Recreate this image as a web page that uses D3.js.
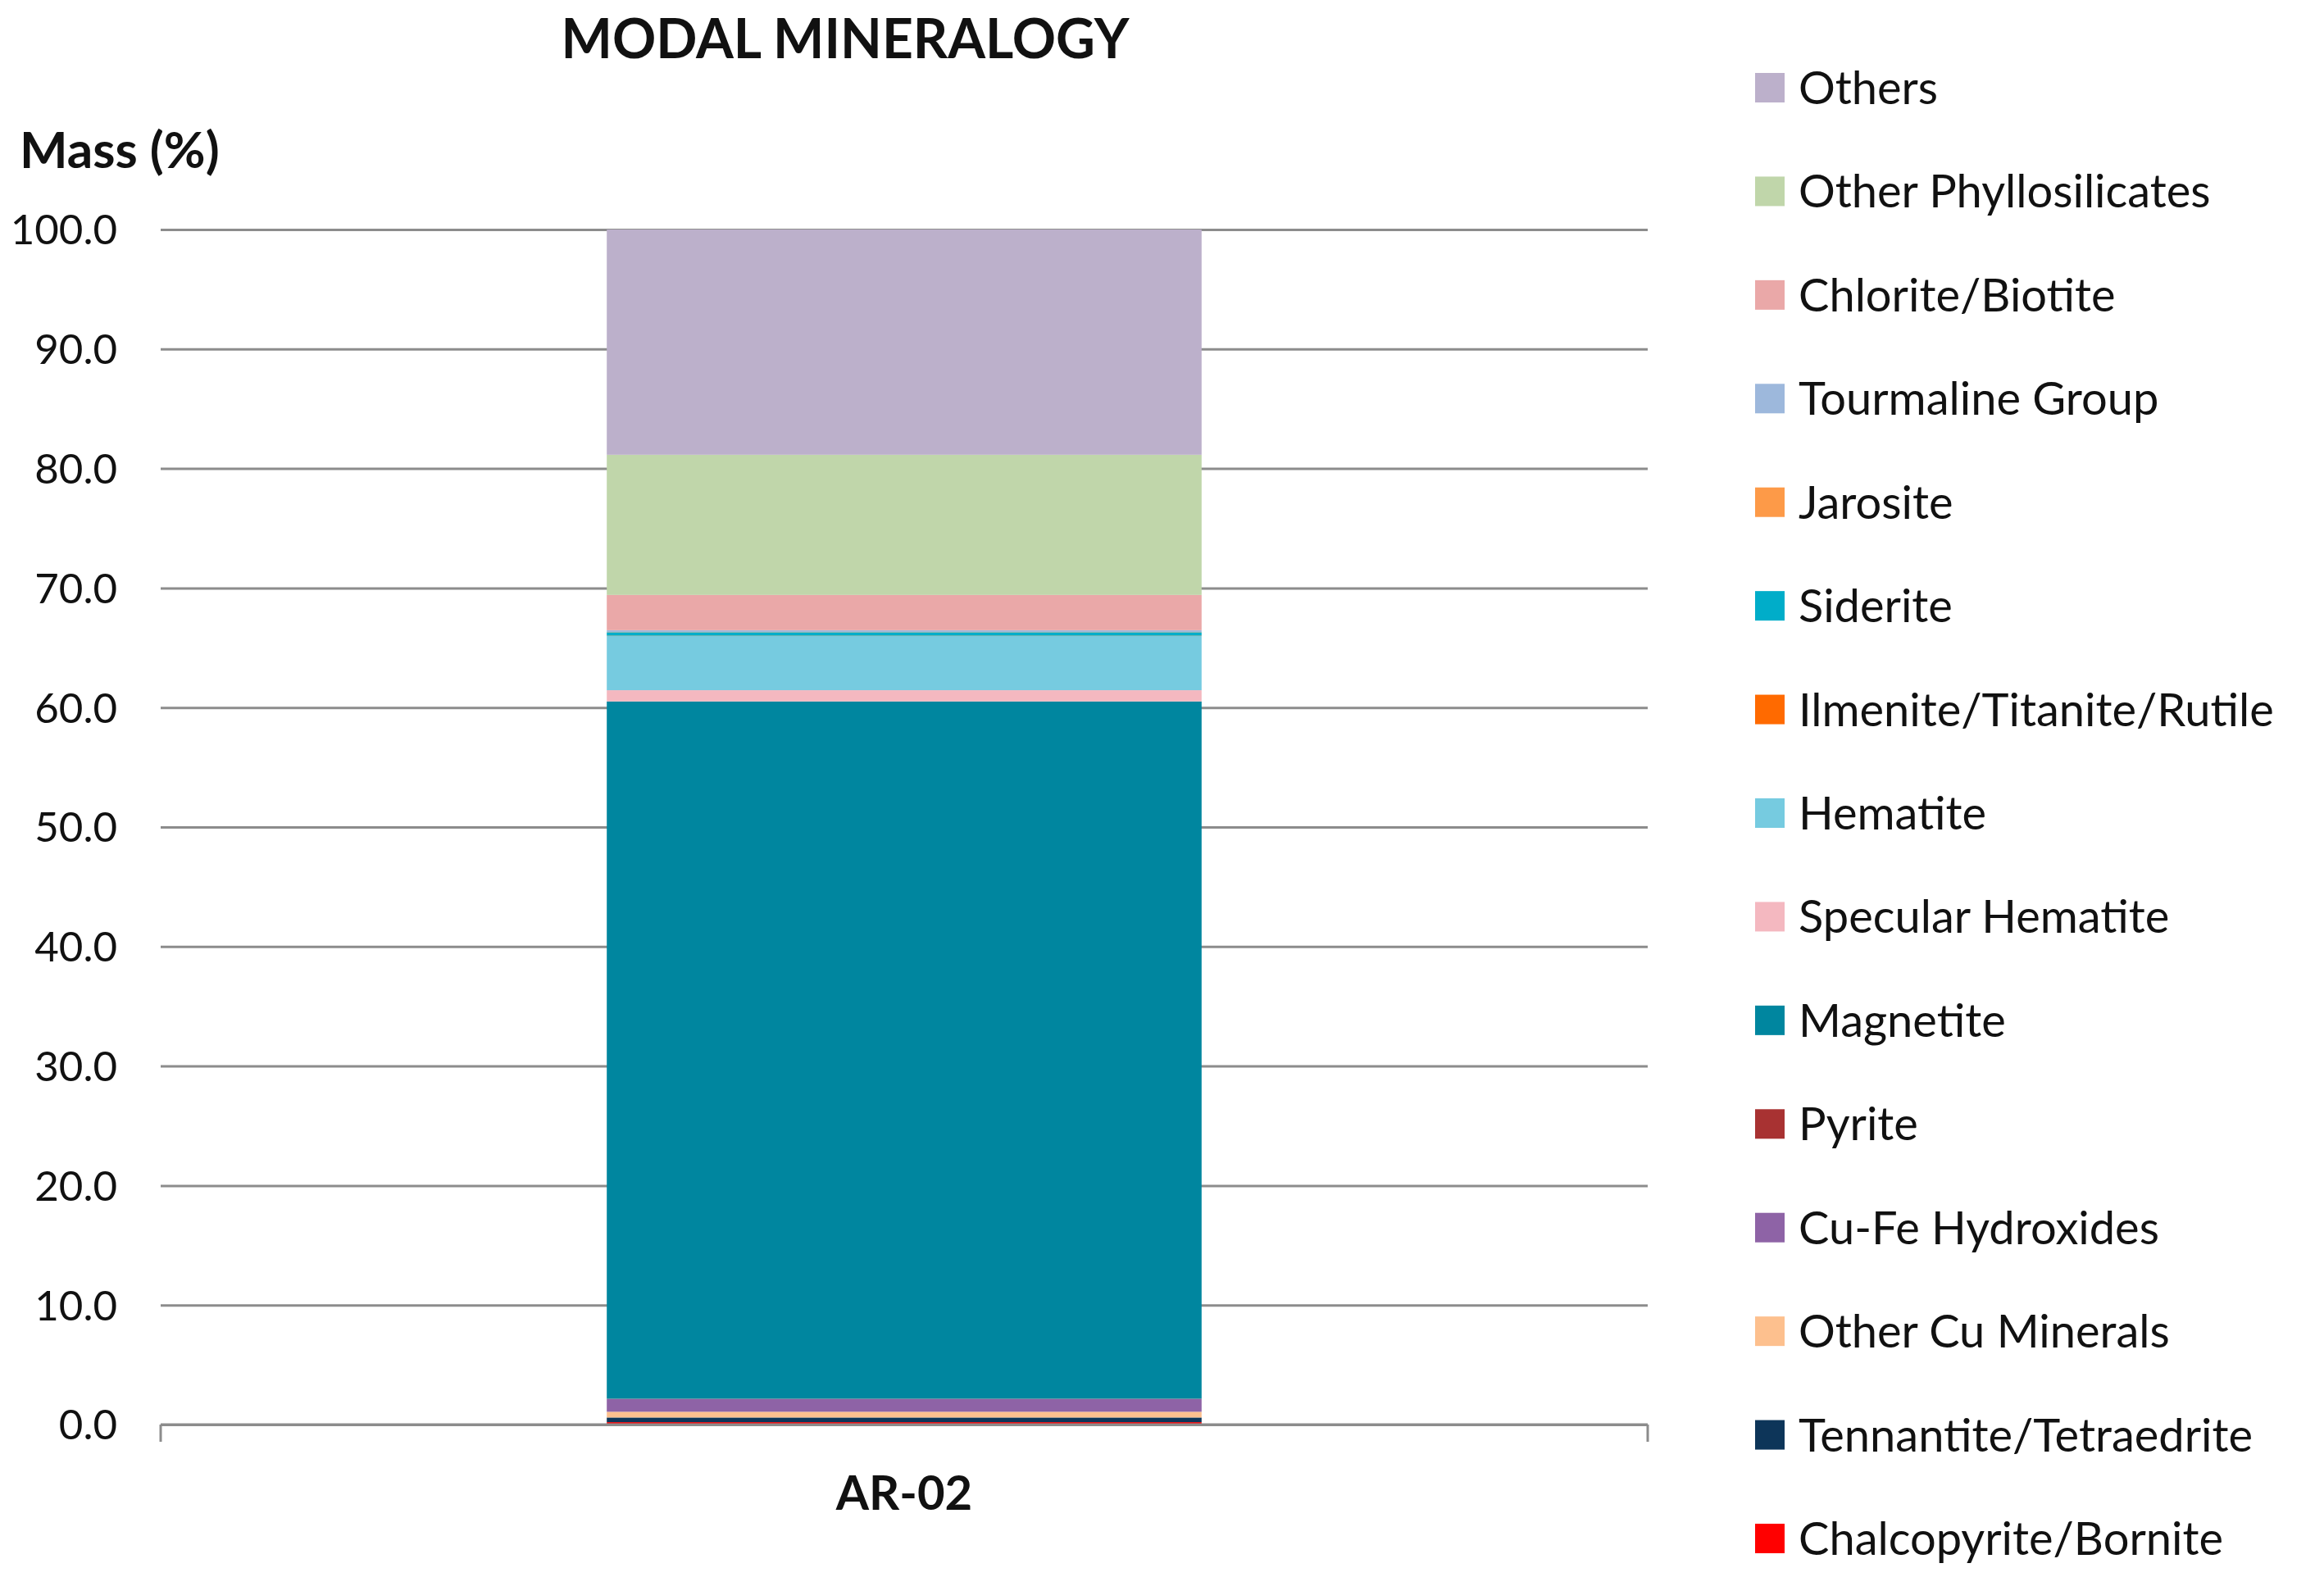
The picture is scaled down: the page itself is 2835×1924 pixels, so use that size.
<!DOCTYPE html>
<html>
<head>
<meta charset="utf-8">
<script src="https://cdn.jsdelivr.net/npm/d3@7"></script>
<style>
  html, body { margin: 0; padding: 0; background: #ffffff; }
  svg { display: block; }
  text { font-family: Lato, "Open Sans", sans-serif; fill: #111; }
</style>
</head>
<body>
<script>
// ---- data ----
const categories = ["AR-02"];
// series listed bottom -> top of the stack
const seriesNames = [
  "Chalcopyrite/Bornite",
  "Tennantite/Tetraedrite",
  "Other Cu Minerals",
  "Cu-Fe Hydroxides",
  "Pyrite",
  "Magnetite",
  "Specular Hematite",
  "Hematite",
  "Ilmenite/Titanite/Rutile",
  "Siderite",
  "Jarosite",
  "Tourmaline Group",
  "Chlorite/Biotite",
  "Other Phyllosilicates",
  "Others"
];
const seriesValues = [0.20, 0.39, 0.48, 1.07, 0.02, 58.35, 0.94, 4.53, 0.03, 0.29, 0.02, 0.15, 2.95, 11.73, 18.85];
const seriesColors = [
  "#ff0000", "#0d3559", "#fdc08e", "#8e63a6", "#a83232",
  "#00869f", "#f4b8c0", "#76cbe0", "#ff6a00", "#00adc9",
  "#fd9a48", "#9db8dc", "#eaa8a8", "#c0d6aa", "#bcb0cb"
];
const yTicks = [0, 10, 20, 30, 40, 50, 60, 70, 80, 90, 100];
const titleText = "MODAL MINERALOGY";
const yLabel = "Mass (%)";

// ---- layout ----
const W = 2835, H = 1924;
const plot = { left: 196, right: 2010, top: 280, bottom: 1738 };

const svg = d3.select("body").append("svg")
  .attr("width", W).attr("height", H);

const x = d3.scaleBand().domain(categories)
  .range([plot.left, plot.right])
  .paddingInner(0.6).paddingOuter(0.3);
const y = d3.scaleLinear().domain([0, 100]).range([plot.bottom, plot.top]);

// table for stack
const rows = categories.map((c, i) => {
  const r = { category: c };
  seriesNames.forEach((s, j) => { r[s] = seriesValues[j]; });
  return r;
});
const stacked = d3.stack().keys(seriesNames)(rows);
const color = d3.scaleOrdinal().domain(seriesNames).range(seriesColors);

// gridlines
const grid = svg.append("g")
  .attr("transform", `translate(${plot.left},0)`)
  .call(d3.axisLeft(y).tickValues(yTicks).tickSize(-(plot.right - plot.left)).tickFormat(""));
grid.select(".domain").remove();
grid.selectAll("line").attr("stroke", "#8c8c8c").attr("stroke-width", 3);

// y tick labels
const yAxis = svg.append("g")
  .attr("transform", `translate(${plot.left},0)`)
  .call(d3.axisLeft(y).tickValues(yTicks).tickSize(0).tickPadding(53).tickFormat(d3.format(".1f")));
yAxis.select(".domain").remove();
yAxis.selectAll("text")
  .attr("font-size", 51)
  .attr("font-family", "Lato, 'Open Sans', sans-serif")
  .attr("fill", "#111")
  .attr("dy", "0.35em");

// bars
svg.append("g").selectAll("g")
  .data(stacked).join("g")
  .attr("fill", d => color(d.key))
  .selectAll("rect")
  .data(d => d).join("rect")
  .attr("x", d => x(d.data.category))
  .attr("width", x.bandwidth())
  .attr("y", d => y(d[1]))
  .attr("height", d => y(d[0]) - y(d[1]));

// x axis baseline + boundary ticks
const xAxis = svg.append("g").attr("transform", `translate(0,${plot.bottom})`);
xAxis.append("line")
  .attr("x1", plot.left).attr("x2", plot.right)
  .attr("stroke", "#8c8c8c").attr("stroke-width", 3);
xAxis.selectAll("line.edge")
  .data(x.range()).join("line")
  .attr("class", "edge")
  .attr("x1", d => d).attr("x2", d => d)
  .attr("y1", 0).attr("y2", 21)
  .attr("stroke", "#8c8c8c").attr("stroke-width", 3);
xAxis.selectAll("text.cat")
  .data(categories).join("text")
  .attr("class", "cat")
  .attr("x", d => x(d) + x.bandwidth() / 2)
  .attr("y", 104)
  .attr("text-anchor", "middle")
  .attr("font-size", 58).attr("font-weight", "bold")
  .attr("fill", "#000")
  .text(d => d);

// title
svg.append("text")
  .attr("x", 1031).attr("y", 71)
  .attr("text-anchor", "middle")
  .attr("font-size", 66).attr("font-weight", "bold")
  .attr("fill", "#000")
  .text(titleText);

// y label
svg.append("text")
  .attr("x", 24).attr("y", 205)
  .attr("font-size", 62).attr("font-weight", "bold")
  .attr("fill", "#000")
  .text(yLabel);

// legend (top -> bottom = reverse of stack)
const legendItems = seriesNames.map((s, i) => ({ name: s, color: seriesColors[i] })).reverse();
const ly = d3.scalePoint().domain(legendItems.map(d => d.name)).range([107, 1877]);
const leg = svg.append("g").selectAll("g")
  .data(legendItems).join("g")
  .attr("transform", d => `translate(2141,${ly(d.name)})`);
leg.append("rect")
  .attr("x", 0).attr("y", -18).attr("width", 36).attr("height", 36)
  .attr("fill", d => d.color);
leg.append("text")
  .attr("x", 53).attr("y", 20)
  .attr("font-size", 56)
  .attr("fill", "#111")
  .text(d => d.name);
</script>
</body>
</html>
